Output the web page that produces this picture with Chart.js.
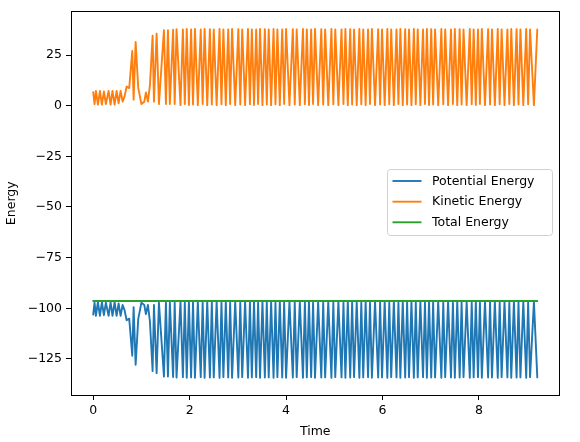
<!DOCTYPE html>
<html lang="en">

<head>
    <meta charset="UTF-8">
    <title>Energy</title>
    <script src="https://cdn.jsdelivr.net/npm/chart.js@4.4.0/dist/chart.umd.min.js"></script>
    <style>
        body { margin: 0; background: #fff; }
        canvas { display: block; }
    </style>
</head>

<body>
    <canvas id="myChart" width="580" height="442"></canvas>
    <script>

        // values (turning points of each curve)
        const time = [
            0, 0.028, 0.056, 0.098, 0.139, 0.18, 0.222, 0.263, 0.319, 0.36,
            0.4, 0.444, 0.485, 0.527, 0.568, 0.61, 0.65, 0.693, 0.747, 0.81,
            0.838, 0.88, 0.934, 1.0, 1.06, 1.093, 1.135, 1.176, 1.232, 1.26,
            1.315, 1.363, 1.467, 1.508, 1.55, 1.59, 1.657, 1.69, 1.728, 1.81,
            1.86, 1.9, 1.94, 1.985,
            2.03, 2.07, 2.11, 2.17,
            2.23, 2.27, 2.31, 2.365,
            2.42, 2.46, 2.5, 2.56,
            2.62, 2.66, 2.7, 2.75,
            2.8, 2.84, 2.88, 2.945,
            3.01, 3.05, 3.09, 3.15,
            3.21, 3.25, 3.29, 3.335,
            3.38, 3.42, 3.46, 3.51,
            3.56, 3.6, 3.64, 3.69,
            3.74, 3.78, 3.82, 3.87,
            3.92, 3.96, 4.0, 4.07,
            4.14, 4.18, 4.22, 4.285,
            4.35, 4.39, 4.43, 4.475,
            4.52, 4.56, 4.6, 4.665,
            4.73, 4.77, 4.81, 4.875,
            4.94, 4.98, 5.02, 5.085,
            5.15, 5.19, 5.23, 5.28,
            5.33, 5.37, 5.41, 5.465,
            5.52, 5.56, 5.6, 5.65,
            5.7, 5.74, 5.78, 5.845,
            5.91, 5.95, 5.99, 6.045,
            6.1, 6.14, 6.18, 6.235,
            6.29, 6.33, 6.37, 6.42,
            6.47, 6.51, 6.55, 6.6,
            6.65, 6.69, 6.73, 6.785,
            6.84, 6.88, 6.92, 6.965,
            7.01, 7.05, 7.09, 7.155,
            7.22, 7.26, 7.3, 7.36,
            7.42, 7.46, 7.5, 7.55,
            7.6, 7.64, 7.68, 7.745,
            7.81, 7.85, 7.89, 7.935,
            7.98, 8.02, 8.06, 8.125,
            8.19, 8.23, 8.27, 8.33,
            8.39, 8.43, 8.47, 8.53,
            8.59, 8.63, 8.67, 8.725,
            8.78, 8.82, 8.86, 8.92,
            8.98, 9.02, 9.06, 9.14,
            9.21
        ];

        const kinetic = [
            6.7, 0.8, 7.3, 0.5, 7.3, 0.5, 7.0, 0.8, 7.3, 0.5,
            7.3, 0.5, 7.3, 1.2, 7.3, 2.0, 4.5, 9.5, 8.7, 27.0,
            3.0, 31.5, 8.8, 0.8, 2.0, 6.5, 2.0, 10.0, 34.6, 2.0,
            35.6, 0.8, 37.3, 0.8, 37.3, 0.8, 37.5, 0.8, 37.8, 0.3,
            37.6, 0.8, 37.9, 0.3,
            37.7, 0.6, 37.9, 0.3,
            37.6, 0.8, 37.9, 0.3,
            37.8, 0.6, 37.7, 0.3,
            37.9, 0.7, 37.6, 0.3,
            37.7, 0.8, 37.9, 0.3,
            37.8, 0.6, 37.6, 0.3,
            37.9, 0.7, 37.7, 0.3,
            37.6, 0.8, 37.9, 0.3,
            37.8, 0.6, 37.7, 0.3,
            37.9, 0.7, 37.6, 0.3,
            37.7, 0.8, 37.9, 0.3,
            37.8, 0.6, 37.6, 0.3,
            37.9, 0.7, 37.7, 0.3,
            37.6, 0.8, 37.9, 0.3,
            37.8, 0.6, 37.7, 0.3,
            37.9, 0.7, 37.6, 0.3,
            37.7, 0.8, 37.9, 0.3,
            37.8, 0.6, 37.6, 0.3,
            37.9, 0.7, 37.7, 0.3,
            37.6, 0.8, 37.9, 0.3,
            37.8, 0.6, 37.7, 0.3,
            37.9, 0.7, 37.6, 0.3,
            37.7, 0.8, 37.9, 0.3,
            37.8, 0.6, 37.6, 0.3,
            37.9, 0.7, 37.7, 0.3,
            37.6, 0.8, 37.9, 0.3,
            37.8, 0.6, 37.7, 0.3,
            37.9, 0.7, 37.6, 0.3,
            37.7, 0.8, 37.9, 0.3,
            37.8, 0.6, 37.6, 0.3,
            37.9, 0.7, 37.7, 0.3,
            37.6, 0.8, 37.9, 0.3,
            37.8, 0.6, 37.7, 0.3,
            37.9, 0.7, 37.6, 0.3,
            37.7, 0.8, 37.9, 0.3,
            37.8, 0.6, 37.7, 0.3,
            37.9, 0.7, 37.6, 0.3,
            37.7
        ];

        const potential = [
            -103.1, -97.2, -103.7, -96.9, -103.7, -96.9, -103.4, -97.2, -103.7, -96.9,
            -103.7, -96.9, -103.7, -97.6, -103.7, -98.4, -100.9, -105.9, -105.1, -123.4,
            -99.4, -127.9, -105.2, -97.2, -98.4, -102.9, -98.4, -106.4, -131.0, -98.4,
            -132.0, -97.2, -133.7, -97.2, -133.7, -97.2, -133.9, -97.2, -134.2, -96.7,
            -134.0, -97.2, -134.3, -96.7,
            -134.1, -97.0, -134.3, -96.7,
            -134.0, -97.2, -134.3, -96.7,
            -134.2, -97.0, -134.1, -96.7,
            -134.3, -97.1, -134.0, -96.7,
            -134.1, -97.2, -134.3, -96.7,
            -134.2, -97.0, -134.0, -96.7,
            -134.3, -97.1, -134.1, -96.7,
            -134.0, -97.2, -134.3, -96.7,
            -134.2, -97.0, -134.1, -96.7,
            -134.3, -97.1, -134.0, -96.7,
            -134.1, -97.2, -134.3, -96.7,
            -134.2, -97.0, -134.0, -96.7,
            -134.3, -97.1, -134.1, -96.7,
            -134.0, -97.2, -134.3, -96.7,
            -134.2, -97.0, -134.1, -96.7,
            -134.3, -97.1, -134.0, -96.7,
            -134.1, -97.2, -134.3, -96.7,
            -134.2, -97.0, -134.0, -96.7,
            -134.3, -97.1, -134.1, -96.7,
            -134.0, -97.2, -134.3, -96.7,
            -134.2, -97.0, -134.1, -96.7,
            -134.3, -97.1, -134.0, -96.7,
            -134.1, -97.2, -134.3, -96.7,
            -134.2, -97.0, -134.0, -96.7,
            -134.3, -97.1, -134.1, -96.7,
            -134.0, -97.2, -134.3, -96.7,
            -134.2, -97.0, -134.1, -96.7,
            -134.3, -97.1, -134.0, -96.7,
            -134.1, -97.2, -134.3, -96.7,
            -134.2, -97.0, -134.0, -96.7,
            -134.3, -97.1, -134.1, -96.7,
            -134.0, -97.2, -134.3, -96.7,
            -134.2, -97.0, -134.1, -96.7,
            -134.3, -97.1, -134.0, -96.7,
            -134.1, -97.2, -134.3, -96.7,
            -134.2, -97.0, -134.1, -96.7,
            -134.3, -97.1, -134.0, -96.7,
            -134.1
        ];

        const totalTime = [0, 9.21];
        const totalEnergy = [-96.4, -96.4];

        const xTicks = [0, 2, 4, 6, 8];
        const yTicks = [-125, -100, -75, -50, -25, 0, 25];

        const FONT = "'DejaVu Sans', sans-serif";

        function pts(xs, ys) {
            return xs.map(function (x, i) { return { x: x, y: ys[i] }; });
        }

        function minus(v) {
            return String(v).replace('-', '\u2212');
        }

        // legend drawn inside the plot, centre right
        const boxLegend = {
            id: 'boxLegend',
            afterDraw: function (chart) {
                const c = chart.ctx;
                const x = 387.5, y = 169.5, w = 165, h = 66;
                c.save();
                c.beginPath();
                c.roundRect(x, y, w, h, 3);
                c.fillStyle = 'rgba(255,255,255,0.8)';
                c.fill();
                c.strokeStyle = '#d0d0d0';
                c.lineWidth = 1;
                c.stroke();
                const rows = [181, 201.7, 222.3];
                chart.data.datasets.forEach(function (ds, i) {
                    c.strokeStyle = ds.borderColor;
                    c.lineWidth = 1.9;
                    c.beginPath();
                    c.moveTo(392.5, rows[i]);
                    c.lineTo(421.5, rows[i]);
                    c.stroke();
                    c.fillStyle = '#000';
                    c.font = '12.5px ' + FONT;
                    c.textBaseline = 'middle';
                    c.fillText(ds.label, 432, rows[i] + 0.5);
                });
                c.restore();
            }
        };

        // empty axes on the top and right only give the box its other two sides
        const spine = {
            type: 'linear',
            display: true,
            grid: { display: false },
            border: { display: true, color: '#000', width: 1 },
            ticks: { display: false }
        };

        const ctx = document.getElementById('myChart').getContext('2d');

        const myChart = new Chart(ctx, {
            type: 'line',
            data: {
                datasets: [{
                    label: 'Potential Energy',
                    data: pts(time, potential),
                    borderColor: '#1f77b4',
                    order: 2
                }, {
                    label: 'Kinetic Energy',
                    data: pts(time, kinetic),
                    borderColor: '#ff7f0e',
                    order: 1
                }, {
                    label: 'Total Energy',
                    data: pts(totalTime, totalEnergy),
                    borderColor: '#2ca02c',
                    order: 0
                }]
            },
            options: {
                responsive: false,
                animation: false,
                devicePixelRatio: 1,
                layout: { padding: { top: 9.5, right: 20.5, left: 0, bottom: 0 } },
                elements: {
                    point: { radius: 0 },
                    line: { borderWidth: 1.9, tension: 0, borderJoinStyle: 'round', borderCapStyle: 'round' }
                },
                plugins: {
                    legend: { display: false },
                    tooltip: { enabled: false }
                },
                scales: {
                    x: {
                        type: 'linear',
                        min: -0.4605,
                        max: 9.6705,
                        afterBuildTicks: function (axis) {
                            axis.ticks = xTicks.map(function (v) { return { value: v }; });
                        },
                        afterFit: function (axis) { axis.height = 47; },
                        grid: { drawOnChartArea: false, tickLength: 5, color: '#000' },
                        border: { color: '#000', width: 1 },
                        ticks: {
                            color: '#000',
                            padding: 3,
                            maxRotation: 0,
                            font: { family: FONT, size: 12.5 },
                            callback: function (v) { return minus(v); }
                        },
                        title: {
                            display: true,
                            text: 'Time',
                            color: '#000',
                            font: { family: FONT, size: 12.5 },
                            padding: { top: 0, bottom: 3 }
                        }
                    },
                    y: {
                        min: -142.8,
                        max: 46.5,
                        afterBuildTicks: function (axis) {
                            axis.ticks = yTicks.map(function (v) { return { value: v }; });
                        },
                        afterFit: function (axis) { axis.width = 71; },
                        grid: { drawOnChartArea: false, tickLength: 5, color: '#000' },
                        border: { color: '#000', width: 1 },
                        ticks: {
                            color: '#000',
                            padding: 4,
                            font: { family: FONT, size: 12.5 },
                            callback: function (v) { return minus(v); }
                        },
                        title: {
                            display: true,
                            text: 'Energy',
                            color: '#000',
                            font: { family: FONT, size: 12.5 },
                            padding: { top: 4, bottom: 0 }
                        }
                    },
                    xTop: Object.assign({}, spine, {
                        position: 'top',
                        afterFit: function (axis) { axis.height = 0; }
                    }),
                    yRight: Object.assign({}, spine, {
                        position: 'right',
                        afterFit: function (axis) { axis.width = 0; }
                    })
                }
            },
            plugins: [boxLegend]
        });

    </script>
</body>

</html>
